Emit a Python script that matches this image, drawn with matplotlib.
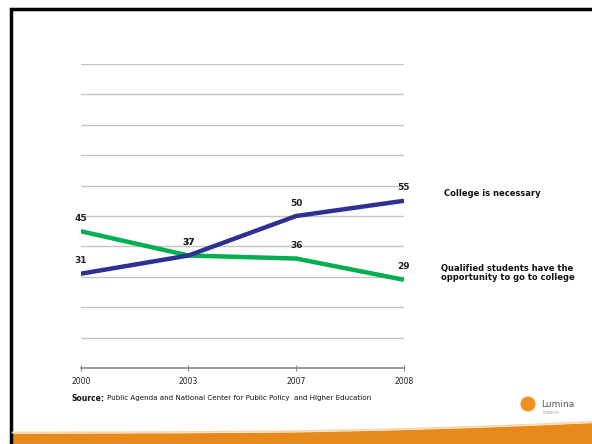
import matplotlib
matplotlib.use("Agg")
import matplotlib.pyplot as plt
from matplotlib.lines import Line2D
from matplotlib.patches import Polygon, Circle

years = ["2000", "2003", "2007", "2008"]
necessary = [31, 37, 50, 55]
qualified = [45, 37, 36, 29]
series_names = ["College is necessary",
                "Qualified students have the\nopportunity to go to college"]
source_text = "Public Agenda and National Center for Public Policy  and Higher Education"

BLUE = "#2e3192"
GREEN = "#00b050"
ORANGE = "#e8891c"

fig = plt.figure(figsize=(5.92, 4.44), dpi=100)
fig.patch.set_facecolor("white")

ax = fig.add_axes([0.1363, 0.1712, 0.5461, 0.6847])
x = list(range(len(years)))

for yv in range(10, 101, 10):
    ax.axhline(yv, color="#c4c4c4", lw=1.0, zorder=1)

ax.plot(x, qualified, color=GREEN, lw=3.2, solid_capstyle="butt", zorder=3)
ax.plot(x, necessary, color=BLUE, lw=3.2, solid_capstyle="butt", zorder=4)

for xi, v in zip(x, qualified):
    ax.annotate(str(v), (xi, v), xytext=(0, 6), textcoords="offset points",
                ha="center", va="bottom", fontsize=6.5, fontweight="bold", color="#222222")
for xi, v in zip(x, necessary):
    ax.annotate(str(v), (xi, v), xytext=(0, 6), textcoords="offset points",
                ha="center", va="bottom", fontsize=6.5, fontweight="bold", color="#222222")

ax.set_xlim(0, 3)
ax.set_ylim(0, 100)
ax.set_xticks(x)
ax.set_xticklabels(years, fontsize=5.5, color="#222222")
ax.set_yticks([])
for side in ["top", "right", "left"]:
    ax.spines[side].set_visible(False)
ax.spines["bottom"].set_color("#8a8a8a")
ax.spines["bottom"].set_linewidth(1.2)
ax.tick_params(axis="x", direction="inout", length=5, width=0.8, color="#8a8a8a", pad=4)
ax.set_facecolor("none")

# series labels on the right
fig.text(0.750, 0.565, series_names[0], fontsize=6, fontweight="bold",
         ha="left", va="center", color="#111111")
fig.text(0.745, 0.385, series_names[1], fontsize=6, fontweight="bold",
         ha="left", va="center", color="#111111", linespacing=1.1)

# source line
fig.text(0.120, 0.103, "Source:", fontsize=5.5, fontweight="bold",
         ha="left", va="center", color="#111111")
fig.text(0.181, 0.103, source_text, fontsize=5.1, ha="left", va="center", color="#111111")

# slide frame: black border on left and top
fig.add_artist(Line2D([0.0186, 0.0186, 1.0], [0.0, 0.980, 0.980], color="black", lw=2.5,
                      solid_joinstyle="miter", transform=fig.transFigure))

# orange band along the bottom, sweeping up to the right
band_x = [0.021, 0.3, 0.5, 0.65, 0.8, 0.9, 1.0]
band_y = [0.023, 0.024, 0.026, 0.030, 0.036, 0.041, 0.047]
fig.add_artist(Polygon([[0.021, 0.0]] + list(zip(band_x, band_y)) + [[1.0, 0.0]],
                       closed=True, facecolor=ORANGE, edgecolor="none",
                       transform=fig.transFigure))
fig.add_artist(Line2D(band_x, [b + 0.003 for b in band_y], color="#f5d7a8", lw=1.2,
                      transform=fig.transFigure))

# logo
fig.add_artist(Circle((528, 40), 7.5, facecolor="#f0901e", edgecolor="none",
                      transform=None))
fig.text(0.914, 0.090, "Lumina", fontsize=6.5, ha="left", va="center", color="#555555")
fig.text(0.916, 0.070, "FOUNDATION", fontsize=1.8, ha="left", va="center", color="#999999")

fig.savefig("out.png", dpi=100)
